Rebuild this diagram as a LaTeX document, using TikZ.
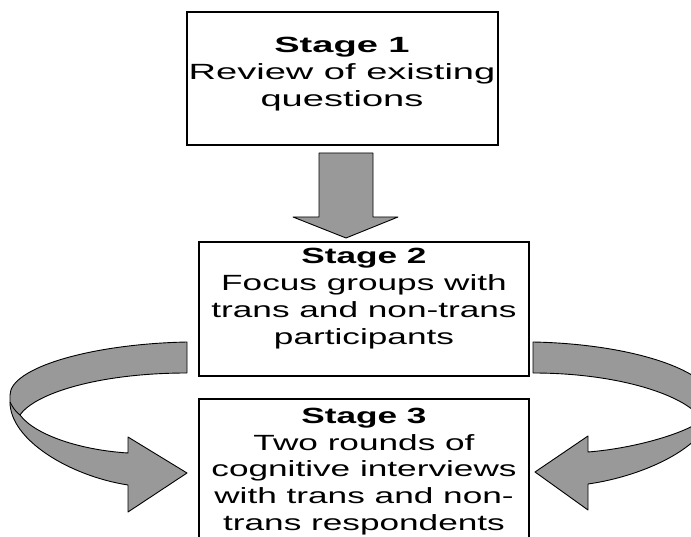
\documentclass[tikz,border=0pt]{standalone}
\usepackage{fontspec}
\setmainfont{Liberation Sans}
\definecolor{arrowgray}{RGB}{153,153,153}
\newcommand{\stagetext}[2]{\scalebox{#1}[1]{\fontsize{22}{27}\selectfont\begin{tabular}[t]{@{}c@{}}#2\end{tabular}}}
\begin{document}
\begin{tikzpicture}[x=1pt,y=-1pt,
  stagebox/.style={draw=black,line width=1.2pt,fill=white,inner sep=0pt},
  stagelabel/.style={inner sep=0pt,anchor=base},
  bigarrow/.style={draw=black,line width=0.9pt,fill=arrowgray,line join=round}]
\useasboundingbox (0,0) rectangle (691,537);
\clip (0,0) rectangle (691,537);
% boxes
\node[stagebox,minimum width=311pt,minimum height=133pt] (b1) at (342.5,78.5) {};
\node[stagebox,minimum width=330pt,minimum height=134pt] (b2) at (364,309) {};
\node[stagebox,minimum width=330pt,minimum height=170pt] (b3) at (364,484) {};
% texts
\node[stagelabel] (t1) at (342,53) {\stagetext{1.73}{\textbf{Stage 1}\\Review of existing\\questions}};
\node[stagelabel] (t2) at (364,264) {\stagetext{1.6}{\textbf{Stage 2}\\Focus groups with\\trans and non-trans\\participants}};
\node[stagelabel] (t3) at (364,423) {\stagetext{1.6}{\textbf{Stage 3}\\Two rounds of\\cognitive interviews\\with trans and non-\\trans respondents}};
% down arrow
\draw[bigarrow] (319,153) -- (373,153) -- (373,217) -- (398,217) -- (346,238) -- (293,217) -- (319,217) -- cycle;
% left curved arrow
\draw[bigarrow] (187,342) .. controls (90,344) and (10,368) .. (10,395)
  -- (10,402) .. controls (10,440) and (70,476) .. (128,485)
  -- (128,512) -- (187,473) -- (128,437) -- (128,453)
  .. controls (80,450) and (35,435) .. (20,415)
  .. controls (35,393) and (100,373) .. (187,373) -- cycle;
\draw[black,line width=0.9pt] (10,402) .. controls (13,408) and (16,412) .. (20,415);
% right curved arrow
\draw[bigarrow] (533,342) .. controls (635,344) and (712,372) .. (712,400)
  -- (712,407) .. controls (712,445) and (645,476) .. (588,484)
  -- (588,510) -- (535,472) -- (588,436) -- (588,452)
  .. controls (638,448) and (688,432) .. (702,420)
  .. controls (688,396) and (620,373) .. (533,373) -- cycle;
\end{tikzpicture}
\end{document}
